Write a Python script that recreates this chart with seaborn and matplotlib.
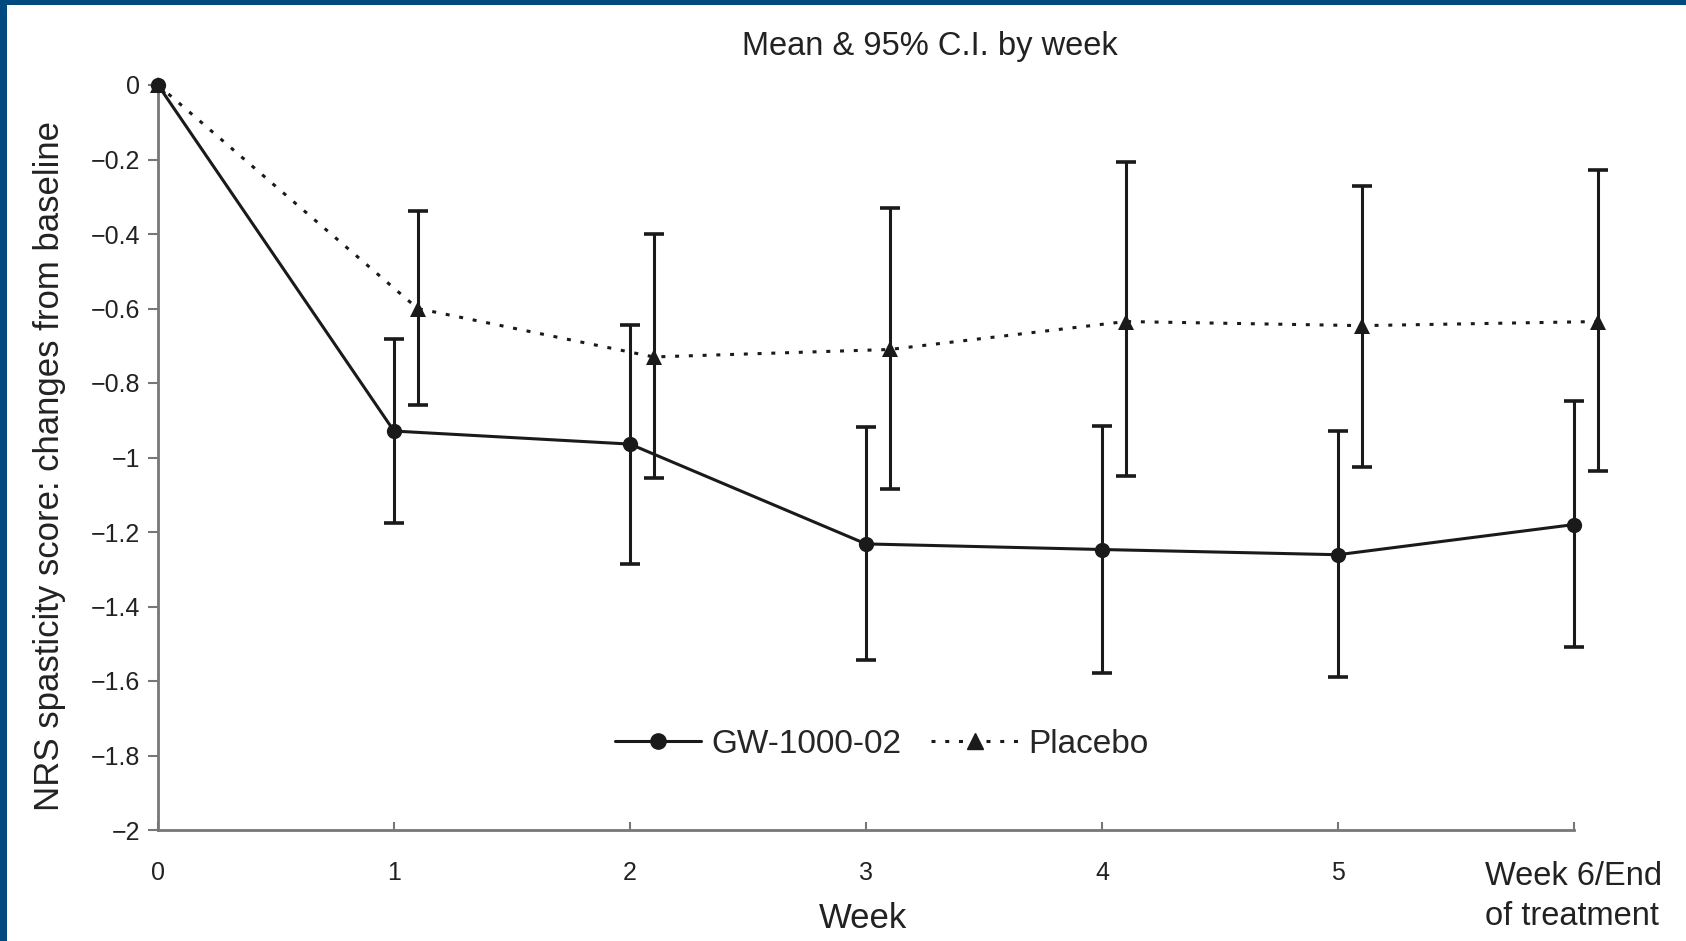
import numpy as np
import pandas as pd
import matplotlib
matplotlib.use('Agg')
import matplotlib.pyplot as plt
import seaborn as sns
from matplotlib.patches import Rectangle
from matplotlib.lines import Line2D

# Data
weeks = [0, 1, 2, 3, 4, 5, 6]
week_labels = ['0', '1', '2', '3', '4', '5', 'Week 6/End\nof treatment']

gw_mean = [0.0, -0.929, -0.964, -1.232, -1.247, -1.261, -1.180]
gw_upper = [0.0, -0.681, -0.644, -0.918, -0.915, -0.929, -0.848]
gw_lower = [0.0, -1.175, -1.287, -1.544, -1.579, -1.590, -1.509]

pl_mean = [0.0, -0.600, -0.730, -0.710, -0.635, -0.646, -0.635]
pl_upper = [0.0, -0.338, -0.401, -0.329, -0.208, -0.271, -0.228]
pl_lower = [0.0, -0.860, -1.056, -1.085, -1.050, -1.025, -1.036]
pl_offset = [0.0, 0.1, 0.1, 0.1, 0.1, 0.1, 0.1]

yticks = [0, -0.2, -0.4, -0.6, -0.8, -1, -1.2, -1.4, -1.6, -1.8, -2]
ytick_labels = ['0', '\u22120.2', '\u22120.4', '\u22120.6', '\u22120.8', '\u22121',
                '\u22121.2', '\u22121.4', '\u22121.6', '\u22121.8', '\u22122']

sns.set_theme(style="white")
plt.rcParams['font.family'] = ['Liberation Sans', 'DejaVu Sans']

gw = pd.DataFrame({'week': weeks, 'mean': gw_mean, 'lo': gw_lower, 'hi': gw_upper,
                   'group': 'GW-1000-02'})
pl = pd.DataFrame({'week': np.array(weeks) + np.array(pl_offset), 'mean': pl_mean,
                   'lo': pl_lower, 'hi': pl_upper, 'group': 'Placebo'})
df = pd.concat([gw, pl], ignore_index=True)

fig = plt.figure(figsize=(16.86, 9.41), dpi=100)
ax = fig.add_axes([158 / 1686, 1 - 830 / 941, (1574 - 158) / 1686, (830 - 85) / 941])

sns.lineplot(data=df, x='week', y='mean', style='group', hue='group',
             palette={'GW-1000-02': '#1a1a1a', 'Placebo': '#1a1a1a'},
             markers={'GW-1000-02': 'o', 'Placebo': '^'},
             dashes={'GW-1000-02': '', 'Placebo': (1.3, 3.2)},
             markersize=11, linewidth=2.2, markeredgewidth=0,
             ax=ax, clip_on=False, zorder=3, legend=False)

for sub in (gw, pl):
    sub = sub.iloc[1:]
    ax.errorbar(sub['week'], sub['mean'],
                yerr=[sub['mean'] - sub['lo'], sub['hi'] - sub['mean']],
                fmt='none', ecolor='#1a1a1a', elinewidth=2.2, capsize=7,
                capthick=2.6, clip_on=False, zorder=2)

# legend
handles = [Line2D([], [], color='#1a1a1a', lw=2.2, marker='o', markersize=11),
           Line2D([], [], color='#1a1a1a', lw=2.2, marker='^', markersize=11,
                  dashes=(1.3, 3.2))]
ax.legend(handles, ['GW-1000-02', 'Placebo'], loc='center',
          bbox_to_anchor=(0.511, 0.115), ncol=2, frameon=False, fontsize=24,
          handlelength=2.6, columnspacing=0.9, handletextpad=0.3)

ax.set_xlim(0, 6)
ax.set_ylim(-2, 0)
ax.set_xticks(weeks)
ax.set_xticklabels(week_labels, fontsize=18, color='#222222')
last = ax.get_xticklabels()[-1]
last.set_fontsize(23.5)
last.set_multialignment('left')
last.set_linespacing(1.4)
ax.set_yticks(yticks)
ax.set_yticklabels(ytick_labels, fontsize=18, color='#222222')

for s in ['top', 'right']:
    ax.spines[s].set_visible(False)
for s in ['left', 'bottom']:
    ax.spines[s].set_color('#777777')
    ax.spines[s].set_linewidth(2)
ax.tick_params(axis='y', direction='out', length=7, width=1.5, color='#777777', pad=6)
ax.tick_params(axis='x', direction='in', length=6, width=1.5, color='#777777', pad=22)
ax.tick_params(axis='x', which='major', bottom=True)
ax.tick_params(axis='y', left=True)

ax.set_xlabel('')
ax.set_ylabel('')
fig.text(863 / 1686, 1 - 919 / 941, 'Week', ha='center', va='center', fontsize=25,
         color='#222222')
fig.text(50 / 1686, 1 - 466 / 941, 'NRS spasticity score: changes from baseline',
         rotation=90, ha='center', va='center', fontsize=25, color='#222222')
fig.text(930 / 1686, 1 - 47 / 941, 'Mean & 95% C.I. by week', ha='center', va='center',
         fontsize=23.5, color='#222222')

# dark blue frame on the top and left edges
fig.patches.append(Rectangle((0, 1 - 5 / 941), 1, 5 / 941, transform=fig.transFigure,
                             facecolor='#004a80', edgecolor='none'))
fig.patches.append(Rectangle((0, 0), 7 / 1686, 1, transform=fig.transFigure,
                             facecolor='#004a80', edgecolor='none'))

plt.savefig('out.png', dpi=100)
plt.close()
